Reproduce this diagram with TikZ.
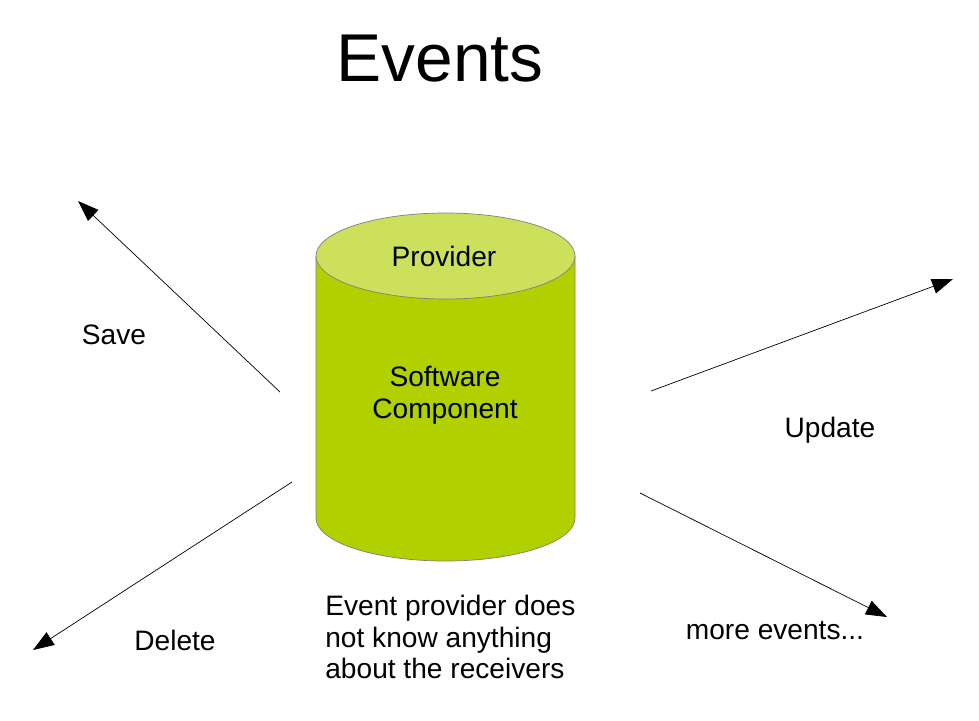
\documentclass[tikz,border=0pt]{standalone}
\usepackage{fontspec}
\setmainfont{Liberation Sans}
\usetikzlibrary{arrows.meta}
\definecolor{bodygreen}{RGB}{176,208,0}
\definecolor{topgreen}{RGB}{204,224,92}
\tikzset{
	evarrow/.style={-{Triangle[length=0.42cm,width=0.3cm]},thin},
	label/.style={font=\fontsize{16}{18}\selectfont}
}
\begin{document}
\begin{tikzpicture}
	\useasboundingbox (0,0) rectangle (19.58,-14.4);
	\node[font=\fontsize{38.5}{44}\selectfont] (title) at (8.8,-1.18) {Events};
	% cylinder
	\fill[bodygreen] (6.32,-5.12) -- (6.32,-10.36) arc[start angle=180,end angle=360,x radius=2.59,y radius=0.86] -- (11.5,-5.12) -- cycle;
	\draw[gray,thin] (6.32,-5.12) -- (6.32,-10.36) arc[start angle=180,end angle=360,x radius=2.59,y radius=0.86] -- (11.5,-5.12);
	\draw[gray,thin,fill=topgreen] (8.91,-5.12) ellipse[x radius=2.59,y radius=0.86];
	\node[label] (provider) at (8.88,-5.12) {Provider};
	\node[label,align=center] (component) at (8.9,-7.9) {Software\\Component};
	% arrows
	\coordinate (saveA) at (5.6,-7.84);
	\coordinate (saveB) at (1.56,-4.02);
	\coordinate (updA) at (13.02,-7.82);
	\coordinate (updB) at (19.06,-5.58);
	\coordinate (delA) at (5.84,-9.64);
	\coordinate (delB) at (0.66,-13.0);
	\coordinate (moreA) at (12.8,-9.86);
	\coordinate (moreB) at (17.74,-12.34);
	\draw[evarrow] (saveA) -- (saveB);
	\draw[evarrow] (updA) -- (updB);
	\draw[evarrow] (delA) -- (delB);
	\draw[evarrow] (moreA) -- (moreB);
	\node[label] (save) at (2.28,-6.7) {Save};
	\node[label] (update) at (16.6,-8.6) {Update};
	\node[label] (delete) at (3.5,-12.8) {Delete};
	\node[label] (more) at (15.5,-12.62) {more events...};
	\node[label,align=left,anchor=west,inner sep=0] (note) at (6.5,-12.74) {Event provider does\\not know anything\\about the receivers};
\end{tikzpicture}
\end{document}
